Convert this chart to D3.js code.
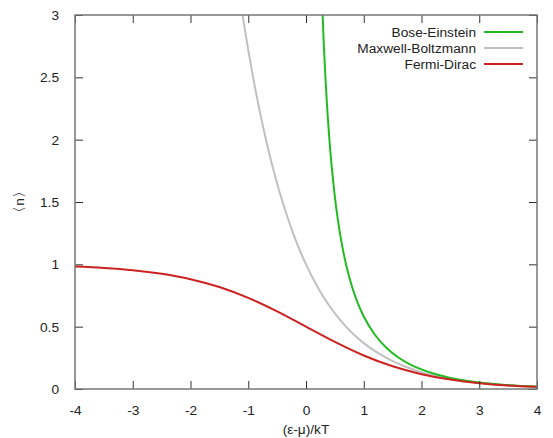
<!DOCTYPE html>
<html>
<head>
<meta charset="utf-8">
<script src="https://cdn.jsdelivr.net/npm/d3@7"></script>
<style>
  body { margin: 0; background: #fff; }
  text { font-family: "Liberation Sans", Arial, sans-serif; fill: #222; }
</style>
</head>
<body>
<div id="chart"></div>
<script>
// Plot size and margins
const width = 553;
const height = 438;
const margin = {left: 75, right: 16, top: 15, bottom: 49};
const fontSize = 13.7;

// Data
const beX = [0.288, 0.3, 0.35, 0.4, 0.5, 0.6, 0.7, 0.8, 0.9, 1.0, 1.2, 1.4, 1.6, 1.8, 2.0, 2.25, 2.5, 2.75, 3.0, 3.5, 4.0];
const beY = [3.0, 2.858, 2.386, 2.033, 1.542, 1.216, 0.986, 0.816, 0.685, 0.582, 0.431, 0.327, 0.253, 0.198, 0.157, 0.118, 0.089, 0.068, 0.052, 0.031, 0.019];

const mbX = [-1.099, -1.0, -0.9, -0.8, -0.7, -0.6, -0.5, -0.4, -0.3, -0.2, -0.1, 0, 0.2, 0.4, 0.6, 0.8, 1.0, 1.25, 1.5, 1.75, 2.0, 2.5, 3.0, 3.5, 4.0];
const mbY = [3.0, 2.718, 2.460, 2.226, 2.014, 1.822, 1.649, 1.492, 1.350, 1.221, 1.105, 1.0, 0.819, 0.670, 0.549, 0.449, 0.368, 0.287, 0.223, 0.174, 0.135, 0.082, 0.050, 0.030, 0.018];

const fdX = [-4, -3.5, -3, -2.5, -2, -1.5, -1, -0.5, 0, 0.5, 1, 1.5, 2, 2.5, 3, 3.5, 4];
const fdY = [0.982, 0.971, 0.953, 0.924, 0.881, 0.818, 0.731, 0.623, 0.5, 0.378, 0.269, 0.182, 0.119, 0.076, 0.047, 0.029, 0.018];

const xTicks = [-4, -3, -2, -1, 0, 1, 2, 3, 4];
const yTicks = [0, 0.5, 1, 1.5, 2, 2.5, 3];

const series = [
  {name: "Bose-Einstein", xs: beX, ys: beY, color: "#22bb22"},
  {name: "Maxwell-Boltzmann", xs: mbX, ys: mbY, color: "#c0c0c0"},
  {name: "Fermi-Dirac", xs: fdX, ys: fdY, color: "#cc2222"}
];

const svg = d3.select("#chart").append("svg")
  .attr("width", width)
  .attr("height", height);

const x = d3.scaleLinear().domain([-4, 4]).range([margin.left, width - margin.right]);
const y = d3.scaleLinear().domain([0, 3]).range([height - margin.bottom, margin.top]);

// curves first, frame on top
const line = d3.line()
  .x(d => x(d[0]))
  .y(d => y(d[1]))
  .curve(d3.curveMonotoneX);

svg.append("clipPath").attr("id", "clip")
  .append("rect")
  .attr("x", margin.left).attr("y", margin.top)
  .attr("width", width - margin.left - margin.right)
  .attr("height", height - margin.top - margin.bottom);

// draw order: MB behind, then BE, FD on top
[series[1], series[0], series[2]].forEach(s => {
  svg.append("path")
    .datum(s.xs.map((v, i) => [v, s.ys[i]]))
    .attr("clip-path", "url(#clip)")
    .attr("fill", "none")
    .attr("stroke", s.color)
    .attr("stroke-width", 2)
    .attr("d", line);
});

// axes, ticks pointing inward, mirrored on top/right
const tickLen = 8;
const frameColor = "#777";
const plain = d => String(d); // hyphen minus like the original

const xAxis = svg.append("g")
  .attr("transform", `translate(0,${height - margin.bottom})`)
  .call(d3.axisBottom(x).tickValues(xTicks).tickSize(-tickLen).tickPadding(tickLen + 8).tickFormat(plain));
const xTop = svg.append("g")
  .attr("transform", `translate(0,${margin.top})`)
  .call(d3.axisTop(x).tickValues(xTicks).tickSize(-tickLen).tickFormat(""));
const yAxis = svg.append("g")
  .attr("transform", `translate(${margin.left},0)`)
  .call(d3.axisLeft(y).tickValues(yTicks).tickSize(-tickLen).tickPadding(tickLen + 8).tickFormat(plain));
const yRight = svg.append("g")
  .attr("transform", `translate(${width - margin.right},0)`)
  .call(d3.axisRight(y).tickValues(yTicks).tickSize(-tickLen).tickFormat(""));

[xAxis, xTop, yAxis, yRight].forEach(g => {
  g.select(".domain").remove();
  g.selectAll(".tick line").attr("stroke", "#333").attr("stroke-width", 1);
  g.selectAll(".tick text").attr("font-size", fontSize).attr("fill", "#222")
    .attr("font-family", "'Liberation Sans', Arial, sans-serif");
});

svg.append("rect")
  .attr("x", margin.left).attr("y", margin.top)
  .attr("width", width - margin.left - margin.right)
  .attr("height", height - margin.top - margin.bottom)
  .attr("fill", "none")
  .attr("stroke", frameColor)
  .attr("stroke-width", 1.5);

// axis labels
svg.append("text")
  .attr("x", (margin.left + width - margin.right) / 2)
  .attr("y", 434)
  .attr("text-anchor", "middle")
  .attr("font-size", fontSize)
  .text("(ε-μ)/kT");

svg.append("text")
  .attr("transform", `translate(24,${(margin.top + height - margin.bottom) / 2}) rotate(-90)`)
  .attr("text-anchor", "middle")
  .attr("font-size", fontSize)
  .text("〈n〉");

// legend
const legend = svg.append("g");
series.forEach((s, i) => {
  const ly = 32 + i * 16;
  legend.append("text")
    .attr("x", 476).attr("y", ly)
    .attr("dy", "0.35em")
    .attr("text-anchor", "end")
    .attr("font-size", fontSize)
    .text(s.name);
  legend.append("line")
    .attr("x1", 484).attr("x2", 523)
    .attr("y1", ly).attr("y2", ly)
    .attr("stroke", s.color)
    .attr("stroke-width", 2);
});
</script>
</body>
</html>
